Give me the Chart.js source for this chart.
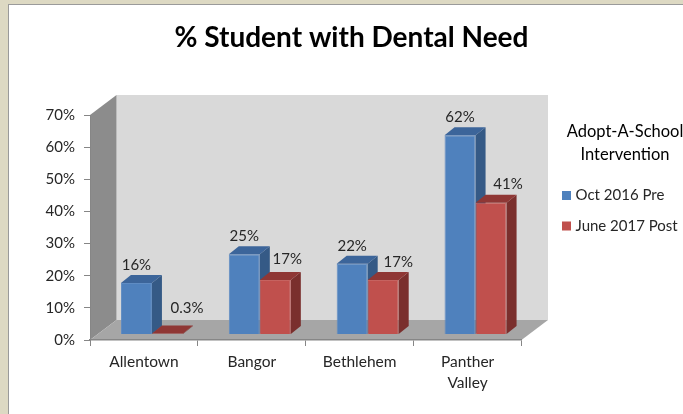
<!DOCTYPE html>
<html>
<head>
<meta charset="utf-8">
<title>% Student with Dental Need</title>
<script src="https://cdn.jsdelivr.net/npm/chart.js@4"></script>
<style>
  html, body { margin: 0; padding: 0; width: 683px; height: 414px; overflow: hidden; background: #ddd9c3; }
  #sheet { position: absolute; left: 8px; top: 4px; width: 680px; height: 420px; background: #fff; border: 1px solid #9a9a9a; box-sizing: border-box; }
  #chart { position: absolute; left: 0; top: 0; }
</style>
</head>
<body>
<div id="sheet"></div>
<canvas id="chart" width="683" height="414"></canvas>
<script>
const categories = ['Allentown', 'Bangor', 'Bethlehem', ['Panther', 'Valley']];
const preValues = [16, 25, 22, 62];
const postValues = [0.3, 17, 17, 41];
const seriesNames = ['Oct 2016 Pre', 'June 2017 Post'];
const legendTitle = ['Adopt-A-School', 'Intervention'];
const chartTitle = '% Student with Dental Need';

const FONT = 'Lato, "Open Sans", sans-serif';
const AXIS_COLOR = '#868686';
const TEXT_COLOR = '#262626';

// Depth of the fake 3D box and of the bars inside it
const WALL_DX = 26.5, WALL_DY = 20;
const BAR_SHIFT_X = 8, BAR_SHIFT_Y = 5.5;
const BAR_DX = 10, BAR_DY = 8;

// Data label offsets from the top centre of each bar front (moved by hand in the original)
const preLabelOffsets = [[0, -18], [0, -18], [0, -18], [0, -18]];
const postLabelOffsets = [[19.5, -25.5], [12, -21], [15, -18], [17, -19]];

function poly(ctx, color, pts) {
  ctx.fillStyle = color;
  ctx.beginPath();
  pts.forEach((p, i) => (i ? ctx.lineTo(p[0], p[1]) : ctx.moveTo(p[0], p[1])));
  ctx.closePath();
  ctx.fill();
}

const box3d = {
  id: 'box3d',
  afterLayout(chart) {
    // title is centred on the whole sheet, not on the plot
    chart.titleBlock.left = 20;
    chart.titleBlock.right = 683;
  },
  beforeDraw(chart) {
    const { ctx, chartArea: a } = chart;
    poly(ctx, '#d9d9d9', [[a.left + WALL_DX, a.top - WALL_DY], [a.right + WALL_DX, a.top - WALL_DY],
      [a.right + WALL_DX, a.bottom - WALL_DY], [a.left + WALL_DX, a.bottom - WALL_DY]]);
    poly(ctx, '#8c8c8c', [[a.left, a.top], [a.left + WALL_DX, a.top - WALL_DY],
      [a.left + WALL_DX, a.bottom - WALL_DY], [a.left, a.bottom]]);
    poly(ctx, '#a6a6a6', [[a.left, a.bottom], [a.right, a.bottom],
      [a.right + WALL_DX, a.bottom - WALL_DY], [a.left + WALL_DX, a.bottom - WALL_DY]]);
  },
  // Chart.js paints the first dataset last; here the right hand bar has to cover
  // the side of its neighbour, so the default pass is skipped and done below
  beforeDatasetDraw() {
    return false;
  },
  afterDatasetsDraw(chart) {
    const ctx = chart.ctx;
    ctx.save();
    ctx.translate(BAR_SHIFT_X, -BAR_SHIFT_Y);
    chart.data.datasets.forEach((ds, i) => {
      const meta = chart.getDatasetMeta(i);
      meta.controller.draw();
      meta.data.forEach(bar => {
        const l = bar.x - bar.width / 2, r = bar.x + bar.width / 2;
        poly(ctx, ds.sideColor, [[r, bar.y], [r + BAR_DX, bar.y - BAR_DY], [r + BAR_DX, bar.base - BAR_DY], [r, bar.base]]);
        poly(ctx, ds.topColor, [[l, bar.y], [l + BAR_DX, bar.y - BAR_DY], [r + BAR_DX, bar.y - BAR_DY], [r, bar.y]]);
      });
    });
    ctx.restore();

    ctx.save();
    ctx.textAlign = 'center';
    ctx.textBaseline = 'middle';
    ctx.fillStyle = TEXT_COLOR;
    ctx.font = '15px ' + FONT;
    chart.data.datasets.forEach((ds, i) => {
      chart.getDatasetMeta(i).data.forEach((bar, j) => {
        const off = ds.labelOffsets[j];
        ctx.fillText(ds.data[j] + '%', bar.x + BAR_SHIFT_X + off[0], bar.y - BAR_SHIFT_Y + off[1]);
      });
    });

    // legend
    ctx.fillStyle = '#000';
    ctx.font = '16.5px ' + FONT;
    ctx.fillText(legendTitle[0], 625, 132);
    ctx.fillText(legendTitle[1], 625, 155);
    ctx.textAlign = 'left';
    ctx.font = '15px ' + FONT;
    chart.data.datasets.forEach((ds, i) => {
      const y = 195.5 + i * 30.5;
      ctx.fillStyle = ds.backgroundColor;
      ctx.fillRect(562, y - 4.5, 9, 9);
      ctx.fillStyle = TEXT_COLOR;
      ctx.fillText(ds.label, 575.5, y);
    });
    ctx.restore();
  }
};

new Chart(document.getElementById('chart'), {
  type: 'bar',
  data: {
    labels: categories,
    datasets: [
      { label: seriesNames[0], data: preValues, backgroundColor: '#4f81bd', borderColor: '#5f8cc3', borderWidth: 1,
        sideColor: '#355a86', topColor: '#3c659a', labelOffsets: preLabelOffsets },
      { label: seriesNames[1], data: postValues, backgroundColor: '#c0504d', borderColor: '#c66360', borderWidth: 1,
        sideColor: '#7a2f2d', topColor: '#8f3735', labelOffsets: postLabelOffsets }
    ]
  },
  options: {
    responsive: false,
    animation: false,
    devicePixelRatio: 1,
    layout: { padding: { right: 161.5 } },
    datasets: { bar: { categoryPercentage: 0.575, barPercentage: 1 } },
    plugins: {
      legend: { display: false },
      tooltip: { enabled: false },
      title: {
        display: true,
        text: chartTitle,
        color: '#000',
        font: { family: FONT, size: 28, weight: 'bold', lineHeight: 1.2 },
        padding: { top: 21, bottom: 60.5 }
      }
    },
    scales: {
      x: {
        afterFit(scale) { scale.height = 74; },
        grid: { drawOnChartArea: false, color: AXIS_COLOR, tickLength: 6 },
        border: { color: AXIS_COLOR, width: 1.5 },
        ticks: { color: TEXT_COLOR, font: { family: FONT, size: 15.5, lineHeight: 1.33 }, padding: 6, maxRotation: 0, autoSkip: false }
      },
      y: {
        min: 0,
        max: 70,
        afterFit(scale) { scale.width = 90; },
        grid: { drawOnChartArea: false, color: AXIS_COLOR, tickLength: 6 },
        border: { color: AXIS_COLOR, width: 1 },
        ticks: { stepSize: 10, color: TEXT_COLOR, font: { family: FONT, size: 15 }, padding: 9, callback: v => v + '%' }
      }
    }
  },
  plugins: [box3d]
});
</script>
</body>
</html>
